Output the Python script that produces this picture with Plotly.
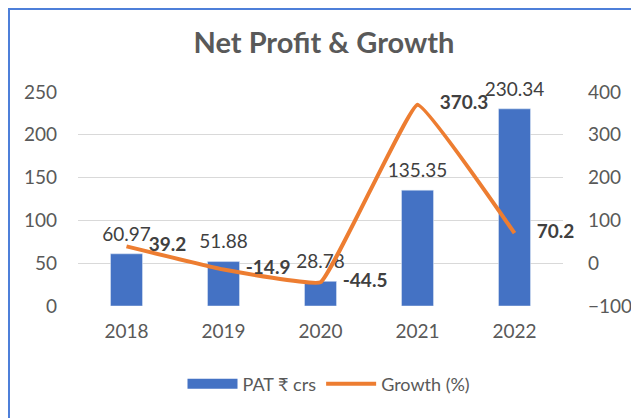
import plotly.graph_objects as go

years = ["2018", "2019", "2020", "2021", "2022"]
pat = [60.97, 51.88, 28.78, 135.35, 230.34]
growth = [39.2, -14.9, -44.5, 370.3, 70.2]
pat_labels = ["60.97", "51.88", "28.78", "135.35", "230.34"]
growth_labels = ["39.2", "-14.9", "-44.5", "370.3", "70.2"]

FONT = "Lato, 'Open Sans', sans-serif"
GREY = "#595959"
DARK = "#404040"
BLUE = "#4472C4"
ORANGE = "#ED7D31"
FS = 19

fig = go.Figure()
fig.add_trace(go.Bar(
    x=years, y=pat, name="PAT ₹ crs",
    marker=dict(color=BLUE),
    width=0.33,
    showlegend=False, legendgroup="pat",
    yaxis="y",
))
# bar value labels
fig.add_trace(go.Scatter(
    x=years, y=pat, mode="markers+text",
    marker=dict(size=12, color="rgba(0,0,0,0)"),
    text=pat_labels, textposition="top center",
    textfont=dict(family=FONT, size=FS, color=DARK),
    cliponaxis=False, showlegend=False, hoverinfo="skip",
    yaxis="y",
))
fig.add_trace(go.Scatter(
    x=years, y=growth, name="Growth (%)",
    mode="lines+markers+text",
    line=dict(color=ORANGE, width=4, shape="spline", smoothing=0.25),
    marker=dict(size=34, color="rgba(0,0,0,0)"),
    text=["<b>%s</b>" % t for t in growth_labels],
    textposition="middle right",
    textfont=dict(family=FONT, size=FS, color=DARK),
    cliponaxis=False,
    showlegend=False, legendgroup="growth",
    yaxis="y2",
))
# legend entries
fig.add_trace(go.Scatter(x=[None], y=[None], mode="lines", name="PAT ₹ crs",
                         line=dict(color=BLUE, width=14), legendgroup="pat"))
fig.add_trace(go.Scatter(x=[None], y=[None], mode="lines", name="Growth (%)",
                         line=dict(color=ORANGE, width=4), legendgroup="growth"))

# the page body has an 8px margin, so the figure is placed at (8, 8)
OFF = 8
W, H = 639 - OFF, 418 - OFF
L, R, T, B = 70, 76, 84, 112
pw, ph = W - L - R, H - T - B

def px_x(p):
    return (p - L) / pw

def px_y(p):
    return (H - B - p) / ph

shapes = [
    dict(type="line", xref="paper", yref="paper", x0=px_x(0), x1=px_x(W), y0=px_y(1), y1=px_y(1),
         line=dict(color="#4E7FD9", width=2)),
    dict(type="line", xref="paper", yref="paper", x0=px_x(1), x1=px_x(1), y0=px_y(H), y1=px_y(0),
         line=dict(color="#4E7FD9", width=2)),
]

fig.update_layout(
    width=W, height=H,
    margin=dict(l=L, r=R, t=T, b=B, autoexpand=False),
    paper_bgcolor="white", plot_bgcolor="white",
    font=dict(family=FONT, color=GREY),
    title=dict(text="<b>Net Profit & Growth</b>", x=(324 - OFF) / W, xanchor="center",
               y=1 - (43 - OFF) / H, yanchor="middle",
               font=dict(family=FONT, size=29, color=GREY)),
    xaxis=dict(showgrid=False, showline=False, zeroline=False, ticks="", ticklabelstandoff=12,
               automargin=False, tickfont=dict(family=FONT, size=FS, color=GREY)),
    yaxis=dict(range=[0, 250], dtick=50, showgrid=True, gridcolor="#D9D9D9", gridwidth=1.3,
               zeroline=False, showline=False, ticks="", ticklabelstandoff=20, automargin=False,
               tickfont=dict(family=FONT, size=FS, color=GREY)),
    yaxis2=dict(range=[-100, 400], dtick=100, overlaying="y", side="right", showgrid=False,
                zeroline=False, showline=False, ticks="", ticklabelstandoff=24, automargin=False,
                tickfont=dict(family=FONT, size=FS, color=GREY)),
    legend=dict(orientation="h", x=px_x(329 - OFF), xanchor="center", y=px_y(384 - OFF), yanchor="middle",
                font=dict(family=FONT, size=18, color=GREY), itemwidth=50, bgcolor="rgba(0,0,0,0)"),
    bargap=0.67,
    shapes=shapes,
)

fig.write_html("out.html")
